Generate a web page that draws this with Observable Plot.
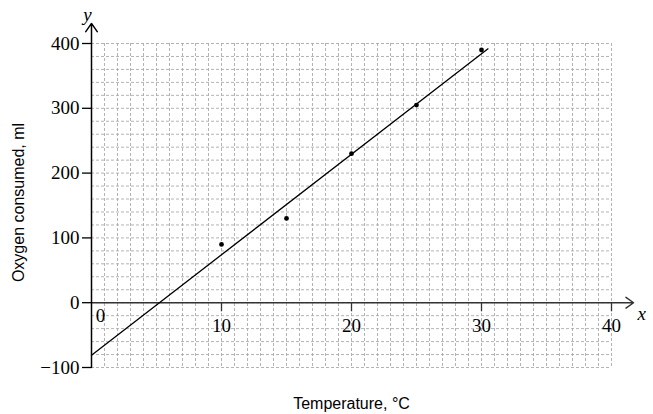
<!DOCTYPE html>
<html>
<head>
<meta charset="utf-8">
<script src="https://cdn.jsdelivr.net/npm/d3@7"></script>
<script src="https://cdn.jsdelivr.net/npm/@observablehq/plot@0.6"></script>
<style>
  html, body { margin: 0; padding: 0; background: #fff; }
</style>
</head>
<body>
<div id="chart"></div>
<script>
// ---- data ----
const temperature = [10, 15, 20, 25, 30];
const oxygen = [90, 130, 230, 305, 390];
const fitX = [0, 30.5];
const fitY = [-81, 391.75];
const xTicks = [10, 20, 30, 40];
const yTicks = [-100, 0, 100, 200, 300, 400];
const gridXTicks = d3.range(0, 41, 1);
const gridYTicks = d3.range(-100, 401, 20);
const xAxisMax = 41.7;   // arrow tip of x axis
const yAxisMax = 431;    // arrow tip of y axis
const xTickLen = 14;     // downward x tick length in data units

const points = temperature.map((t, i) => ({t, o: oxygen[i]}));
const fit = fitX.map((x, i) => ({x, y: fitY[i]}));

const serif = "Liberation Serif";
const sans = "Liberation Sans";

const chart = Plot.plot({
  width: 653,
  height: 414,
  marginLeft: 91,
  marginRight: 42,
  marginTop: 43,
  marginBottom: 47,
  style: {fontFamily: serif, fontSize: "19px", background: "#fff", color: "#000"},
  x: {domain: [0, 40], axis: null},
  y: {domain: [-100, 400]},
  marks: [
    Plot.gridX({ticks: gridXTicks, stroke: "#aaa", strokeOpacity: 1, strokeDasharray: "3,2", strokeWidth: 0.9}),
    Plot.gridY({ticks: gridYTicks, stroke: "#aaa", strokeOpacity: 1, strokeDasharray: "3,2", strokeWidth: 0.9}),
    Plot.axisY({ticks: yTicks, tickSize: 9, tickPadding: 3, label: null, stroke: "#000", strokeWidth: 1.3, fontSize: 19, fontFamily: serif, fill: "#000"}),
    // axes with arrow heads
    Plot.arrow([{x1: 0, y1: 0, x2: xAxisMax, y2: 0}], {x1: "x1", y1: "y1", x2: "x2", y2: "y2", stroke: "#333", strokeWidth: 1.4, headLength: 10, headAngle: 70}),
    Plot.arrow([{x1: 0, y1: -100, x2: 0, y2: yAxisMax}], {x1: "x1", y1: "y1", x2: "x2", y2: "y2", stroke: "#000", strokeWidth: 1.5, headLength: 10, headAngle: 70}),
    // x ticks below the zero line
    Plot.ruleX(xTicks, {x: d => d, y1: 0, y2: -xTickLen, stroke: "#333", strokeWidth: 1.3}),
    Plot.text(xTicks, {x: d => d, y: 0, dy: 23, text: d => String(d), fontFamily: serif, fontSize: 19, fill: "#000"}),
    Plot.text(["0"], {x: 0, y: 0, dx: 9, dy: 13, text: d => d, fontFamily: serif, fontSize: 19, fill: "#000"}),
    // axis letter labels
    Plot.text(["x"], {x: xAxisMax, y: 0, dx: 4, dy: 11, text: d => d, fontFamily: serif, fontStyle: "italic", fontSize: 19, textAnchor: "start", fill: "#000"}),
    Plot.text(["y"], {x: 0, y: yAxisMax, dx: -4, dy: -9, text: d => d, fontFamily: serif, fontStyle: "italic", fontSize: 19, fill: "#000"}),
    // fitted line and data points
    Plot.line(fit, {x: "x", y: "y", stroke: "#000", strokeWidth: 1.3}),
    Plot.dot(points, {x: "t", y: "o", r: 2.4, fill: "#000", stroke: "none"}),
    // axis titles
    Plot.text(["Oxygen consumed, ml"], {frameAnchor: "left", dx: -73, dy: -3, rotate: -90, textAnchor: "middle", text: d => d, fontFamily: sans, fontSize: 16, fill: "#000"}),
    Plot.text(["Temperature, °C"], {frameAnchor: "bottom", dy: 41, textAnchor: "middle", text: d => d, fontFamily: sans, fontSize: 16, fill: "#000"})
  ]
});
document.getElementById("chart").appendChild(chart);
</script>
</body>
</html>
